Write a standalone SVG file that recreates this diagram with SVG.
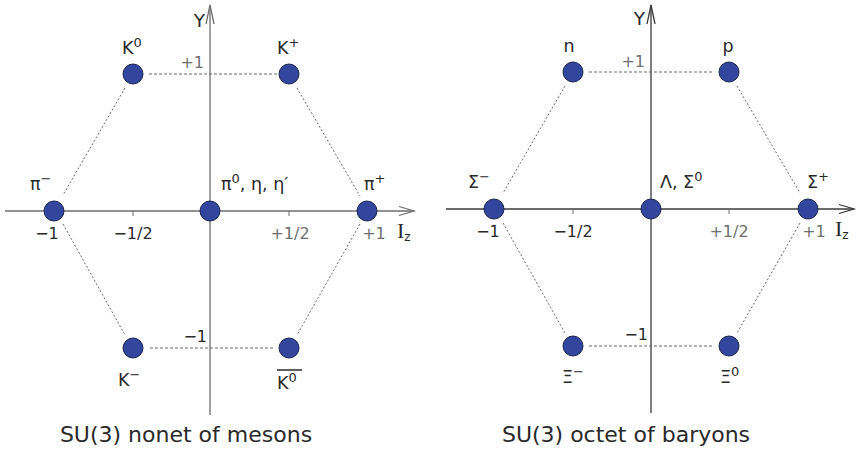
<svg xmlns="http://www.w3.org/2000/svg" width="858" height="453" viewBox="0 0 858 453">
<defs>
<style>
.ax{stroke:#6e6e6e;stroke-width:1.3;fill:none}
.axr{stroke:#3a3a3a;stroke-width:1.3;fill:none}
.tick{stroke:#6e6e6e;stroke-width:1}
.dash{stroke:#6a6a6a;stroke-width:1.1;stroke-dasharray:3 2;fill:none}
.dot{stroke:#6a6a6a;stroke-width:1;stroke-dasharray:2 2;fill:none}
.nd{fill:#31469c;stroke:#1c2550;stroke-width:1}
text{font-family:"DejaVu Sans","Noto Sans",sans-serif;fill:#2a2a2a}
.lb{font-size:17.5px}
.yl{font-size:18.5px}
.tk{font-size:16px}
.tkg{font-size:16px;fill:#707070}
.ttl{font-size:22px}
.iz{font-family:"Liberation Serif","DejaVu Serif",serif;font-size:22px}
.sub{font-family:"DejaVu Sans",sans-serif;font-size:12px}
.sup{font-size:13px}
</style>
</defs>
<rect width="858" height="453" fill="#ffffff"/>

<!-- Left diagram axes -->
<g id="axes-left">
<line class="ax" x1="210" y1="415" x2="210" y2="5"/>
<polyline class="ax" points="206,24 210,5 214,24"/>
<line class="ax" x1="5" y1="211" x2="414" y2="211"/>
<polyline class="ax" points="399,206.5 414,211 399,215.5"/>
<line class="tick" x1="133" y1="211" x2="133" y2="216"/>
<line class="tick" x1="289" y1="211" x2="289" y2="216"/>
<text x="205" y="27" class="yl" text-anchor="end">Y</text>
<text x="204" y="68" class="tkg" text-anchor="end">+1</text>
<text x="207" y="342" class="tk" text-anchor="end">−1</text>
<text x="47" y="239" class="tk" text-anchor="middle">−1</text>
<text x="133" y="239" class="tk" text-anchor="middle">−1/2</text>
<text x="290" y="239" class="tkg" text-anchor="middle">+1/2</text>
<text x="374" y="239" class="tkg" text-anchor="middle">+1</text>
<text x="397" y="238" class="iz">I<tspan class="sub" dy="3">z</tspan></text>
</g>

<!-- Right diagram axes -->
<g id="axes-right">
<line class="axr" x1="651" y1="413" x2="651" y2="5"/>
<polyline class="axr" points="647,24 651,5 655,24"/>
<line class="axr" x1="446" y1="209" x2="854" y2="209"/>
<polyline class="axr" points="839,204.5 854,209 839,213.5"/>
<line class="tick" x1="573" y1="209" x2="573" y2="214"/>
<line class="tick" x1="729" y1="209" x2="729" y2="214"/>
<text x="645" y="25" class="yl" text-anchor="end">Y</text>
<text x="645" y="67" class="tkg" text-anchor="end">+1</text>
<text x="648" y="340" class="tk" text-anchor="end">−1</text>
<text x="488" y="237" class="tk" text-anchor="middle">−1</text>
<text x="573" y="237" class="tk" text-anchor="middle">−1/2</text>
<text x="729" y="237" class="tkg" text-anchor="middle">+1/2</text>
<text x="814" y="237" class="tkg" text-anchor="middle">+1</text>
<text x="835" y="236" class="iz">I<tspan class="sub" dy="3">z</tspan></text>
</g>

<!-- Connectors -->
<g id="connectors">
<line class="dash" x1="149" y1="74" x2="278" y2="74"/>
<line class="dash" x1="150" y1="348" x2="275" y2="348"/>
<line class="dot" x1="125" y1="88" x2="63" y2="195"/>
<line class="dot" x1="297" y1="88" x2="360" y2="196"/>
<line class="dot" x1="63" y1="224" x2="125" y2="335"/>
<line class="dot" x1="360" y1="224" x2="297" y2="335"/>

<line class="dash" x1="589" y1="72" x2="713" y2="72"/>
<line class="dash" x1="589" y1="346" x2="713" y2="346"/>
<line class="dot" x1="565" y1="86" x2="503" y2="193"/>
<line class="dot" x1="737" y1="86" x2="800" y2="193"/>
<line class="dot" x1="503" y1="223" x2="565" y2="333"/>
<line class="dot" x1="800" y1="223" x2="737" y2="333"/>
</g>

<!-- Meson nonet nodes -->
<g id="K0">
<circle class="nd" cx="133" cy="74" r="10"/>
<text x="122" y="54" class="lb">K<tspan class="sup" dy="-7">0</tspan></text>
</g>
<g id="Kplus">
<circle class="nd" cx="289" cy="74" r="10"/>
<text x="277" y="54" class="lb">K<tspan class="sup" dy="-7">+</tspan></text>
</g>
<g id="piminus">
<circle class="nd" cx="54" cy="211" r="10"/>
<text x="30" y="190" class="lb">π<tspan class="sup" dy="-7">−</tspan></text>
</g>
<g id="pi0-eta-etaprime">
<circle class="nd" cx="210" cy="211" r="10"/>
<text x="221" y="190" class="lb">π<tspan class="sup" dy="-7">0</tspan><tspan dy="7">, η, η′</tspan></text>
</g>
<g id="piplus">
<circle class="nd" cx="367" cy="211" r="10"/>
<text x="364" y="190" class="lb">π<tspan class="sup" dy="-7">+</tspan></text>
</g>
<g id="Kminus">
<circle class="nd" cx="133" cy="348" r="10"/>
<text x="118" y="386" class="lb">K<tspan class="sup" dy="-7">−</tspan></text>
</g>
<g id="K0bar">
<circle class="nd" cx="289" cy="348" r="10"/>
<line x1="277" y1="370" x2="302" y2="370" stroke="#2a2a2a" stroke-width="1.5"/>
<text x="277" y="389" class="lb">K<tspan class="sup" dy="-7">0</tspan></text>
</g>
<text x="186" y="442" class="ttl" text-anchor="middle">SU(3) nonet of mesons</text>

<!-- Baryon octet nodes -->
<g id="n">
<circle class="nd" cx="573" cy="72" r="10"/>
<text x="569" y="52" class="lb" text-anchor="middle">n</text>
</g>
<g id="p">
<circle class="nd" cx="729" cy="72" r="10"/>
<text x="728" y="52" class="lb" text-anchor="middle">p</text>
</g>
<g id="Sigmaminus">
<circle class="nd" cx="494" cy="209" r="10"/>
<text x="468" y="188" class="lb">Σ<tspan class="sup" dy="-7">−</tspan></text>
</g>
<g id="Lambda-Sigma0">
<circle class="nd" cx="651" cy="209" r="10"/>
<text x="660" y="188" class="lb">Λ, Σ<tspan class="sup" dy="-7">0</tspan></text>
</g>
<g id="Sigmaplus">
<circle class="nd" cx="808" cy="209" r="10"/>
<text x="807" y="188" class="lb">Σ<tspan class="sup" dy="-7">+</tspan></text>
</g>
<g id="Ximinus">
<circle class="nd" cx="573" cy="346" r="10"/>
<text x="562" y="383" class="lb">Ξ<tspan class="sup" dy="-7">−</tspan></text>
</g>
<g id="Xi0">
<circle class="nd" cx="729" cy="346" r="10"/>
<text x="720" y="383" class="lb">Ξ<tspan class="sup" dy="-7">0</tspan></text>
</g>
<text x="626" y="442" class="ttl" text-anchor="middle">SU(3) octet of baryons</text>
</svg>
